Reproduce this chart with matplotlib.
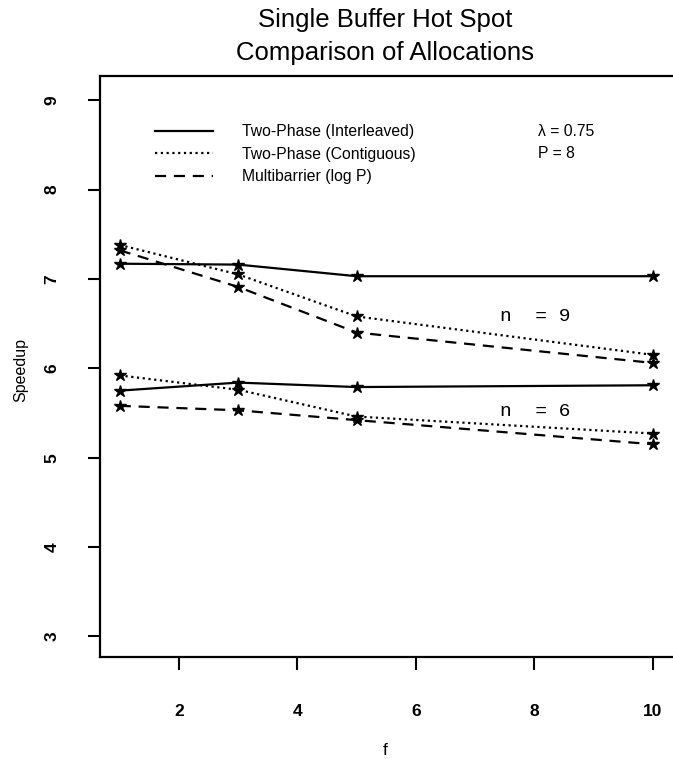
import matplotlib
matplotlib.use("Agg")
import matplotlib.pyplot as plt

# datos
f_vals = [1, 3, 5, 10]

# n = 9
inter_9 = [7.17, 7.16, 7.03, 7.03]
contig_9 = [7.38, 7.05, 6.58, 6.15]
multi_9 = [7.32, 6.91, 6.40, 6.06]

# n = 6
inter_6 = [5.75, 5.84, 5.79, 5.81]
contig_6 = [5.92, 5.76, 5.46, 5.27]
multi_6 = [5.58, 5.53, 5.42, 5.15]

series_names = ['Two-Phase (Interleaved)', 'Two-Phase (Contiguous)', 'Multibarrier (log P)']
x_ticks = [2, 4, 6, 8, 10]
y_ticks = [3, 4, 5, 6, 7, 8, 9]

plt.rcParams['font.family'] = ['Liberation Sans', 'DejaVu Sans']

fig = plt.figure(figsize=(6.73, 7.59), dpi=100)
ax = fig.add_axes([100 / 673, 1 - 657 / 759, 573 / 673, 581 / 759])

estilos = {
    'solid': dict(linestyle='-', linewidth=1.6),
    'dotted': dict(linestyle=(0, (1, 1.6)), linewidth=1.6),
    'dashed': dict(linestyle=(0, (5, 3.5)), linewidth=1.6),
}
marca = dict(marker='*', markersize=9, color='black')

ax.plot(f_vals, inter_9, **estilos['solid'], **marca)
ax.plot(f_vals, contig_9, **estilos['dotted'], **marca)
ax.plot(f_vals, multi_9, **estilos['dashed'], **marca)
ax.plot(f_vals, inter_6, **estilos['solid'], **marca)
ax.plot(f_vals, contig_6, **estilos['dotted'], **marca)
ax.plot(f_vals, multi_6, **estilos['dashed'], **marca)

# leyenda sin marcadores
h1, = ax.plot([], [], color='black', **estilos['solid'])
h2, = ax.plot([], [], color='black', **estilos['dotted'])
h3, = ax.plot([], [], color='black', **estilos['dashed'])
ax.legend([h1, h2, h3], series_names, loc='upper left', bbox_to_anchor=(0.096, 0.917),
          frameon=False, fontsize=11.3, handlelength=3.7, handletextpad=1.85,
          labelspacing=0.48, borderpad=0, borderaxespad=0)

ax.text(0.764, 0.905, 'λ = 0.75', transform=ax.transAxes, fontsize=11.3, va='center')
ax.text(0.764, 0.866, 'P = 8', transform=ax.transAxes, fontsize=11.3, va='center')

ax.text(7.42, 6.58, 'n  = 9', family='Liberation Mono', fontsize=14, va='center')
ax.text(7.42, 5.52, 'n  = 6', family='Liberation Mono', fontsize=14, va='center')

ax.set_xlim(0.667, 10.34)
ax.set_ylim(2.77, 9.27)
ax.set_xticks(x_ticks)
ax.set_yticks(y_ticks)
ax.tick_params(axis='both', direction='out', length=9, width=1.5, labelsize=12.5)
ax.tick_params(axis='y', pad=20, labelrotation=90)
ax.tick_params(axis='x', pad=25)
for lbl in ax.get_xticklabels() + ax.get_yticklabels():
    lbl.set_fontweight('bold')
for lbl in ax.get_yticklabels():
    lbl.set_va('center')

for s in ['left', 'bottom', 'top']:
    ax.spines[s].set_linewidth(1.6)
ax.spines['right'].set_visible(False)

ax.set_xlabel('f', fontsize=12.5)
ax.xaxis.set_label_coords((385 - 100) / 573, -(743 - 657) / 581)
ax.set_ylabel('Speedup', fontsize=11.5)
ax.yaxis.set_label_coords((28 - 100) / 573, (657 - 370) / 581)

fig.text(385 / 673, 1 - 20 / 759, 'Single Buffer Hot Spot', ha='center', va='center', fontsize=18.5)
fig.text(385 / 673, 1 - 53 / 759, 'Comparison of Allocations', ha='center', va='center', fontsize=18.5)

fig.savefig('out.png', dpi=100)
